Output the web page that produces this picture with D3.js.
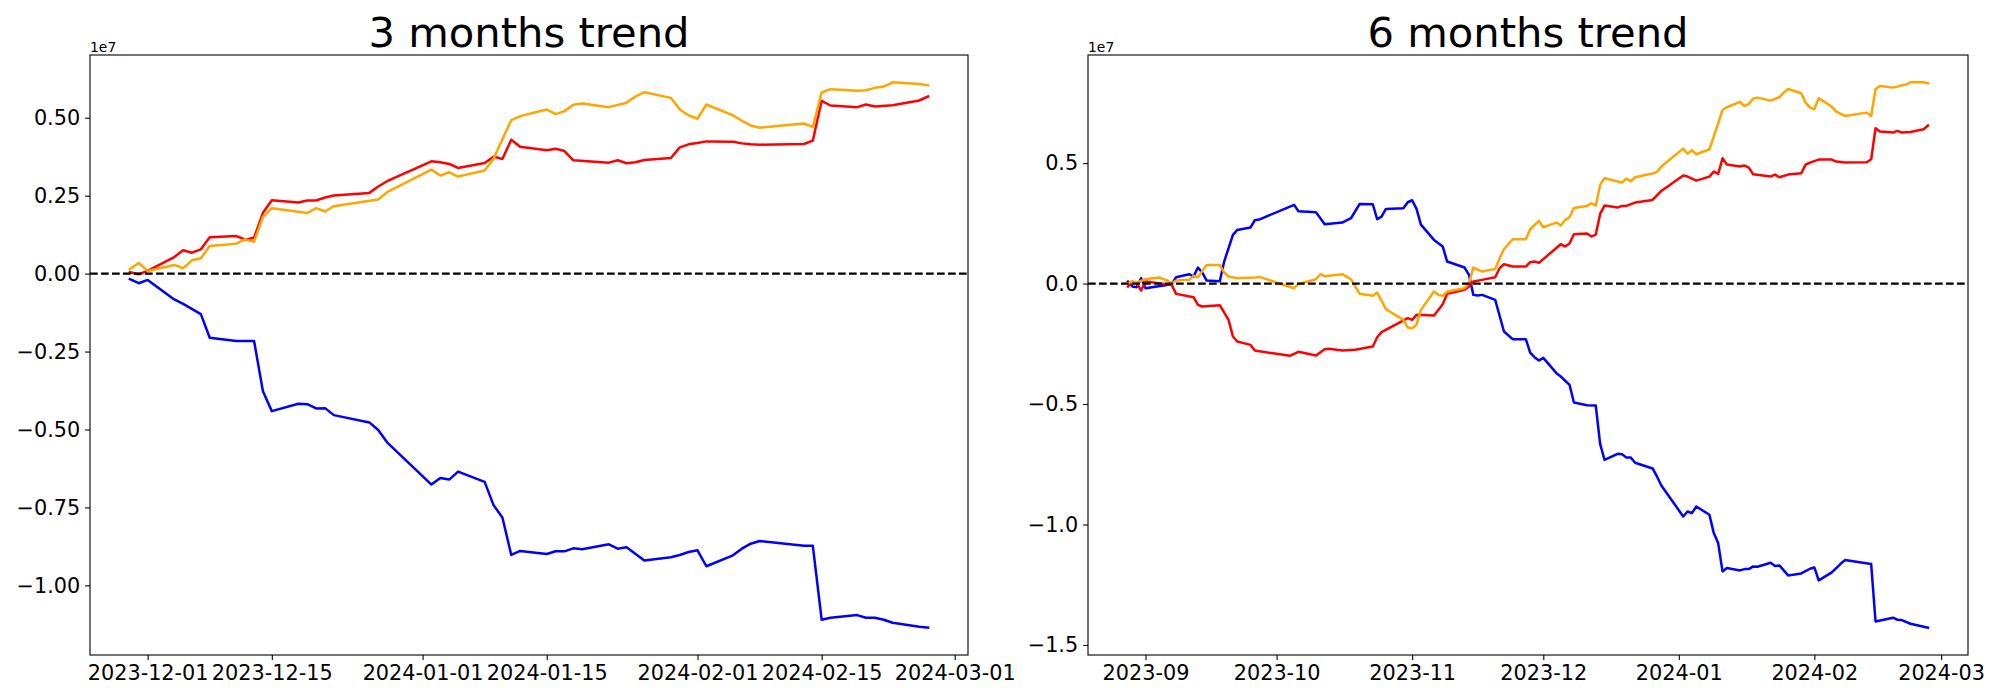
<!DOCTYPE html>
<html><head><meta charset="utf-8">
<script src="https://cdn.jsdelivr.net/npm/d3@7"></script>
<style>body{margin:0;background:#fff}svg{display:block}text{font-family:"DejaVu Sans",sans-serif}</style>
</head><body>
<svg id="chart" width="2000" height="700"></svg>
<script>
// ---------- data (values in units of 1e7) ----------
const panelTitles = ["3 months trend", "6 months trend"];
const seriesColors = ["blue", "red", "orange"];
const valueUnitLabel = "1e7";

const m3XTicks = ["2023-12-01","2023-12-15","2024-01-01","2024-01-15","2024-02-01","2024-02-15","2024-03-01"];
const m3YTicks = [-1.0, -0.75, -0.5, -0.25, 0.0, 0.25, 0.5];
const m6XTicks = ["2023-09-01","2023-10-01","2023-11-01","2023-12-01","2024-01-01","2024-02-01","2024-03-01"];
const m6YTicks = [-1.5, -1.0, -0.5, 0.0, 0.5];

const m3Blue = [["2023-11-29",-0.0180],["2023-11-30",-0.0308],["2023-12-01",-0.0201],["2023-12-04",-0.0830],["2023-12-05",-0.0969],["2023-12-07",-0.1299],["2023-12-08",-0.2056],["2023-12-11",-0.2162],["2023-12-13",-0.2162],["2023-12-14",-0.3771],["2023-12-15",-0.4411],["2023-12-18",-0.4176],["2023-12-19",-0.4187],["2023-12-20",-0.4325],["2023-12-21",-0.4315],["2023-12-22",-0.4539],["2023-12-26",-0.4773],["2023-12-27",-0.5018],["2023-12-28",-0.5412],["2024-01-02",-0.6766],["2024-01-03",-0.6553],["2024-01-04",-0.6606],["2024-01-05",-0.6350],["2024-01-08",-0.6681],["2024-01-09",-0.7426],["2024-01-10",-0.7821],["2024-01-11",-0.9025],["2024-01-12",-0.8897],["2024-01-15",-0.8993],["2024-01-16",-0.8908],["2024-01-17",-0.8908],["2024-01-18",-0.8812],["2024-01-19",-0.8844],["2024-01-22",-0.8684],["2024-01-23",-0.8823],["2024-01-24",-0.8780],["2024-01-26",-0.9206],["2024-01-29",-0.9099],["2024-01-30",-0.9025],["2024-01-31",-0.8929],["2024-02-01",-0.8876],["2024-02-02",-0.9387],["2024-02-05",-0.9036],["2024-02-06",-0.8823],["2024-02-07",-0.8663],["2024-02-08",-0.8578],["2024-02-13",-0.8727],["2024-02-14",-0.8727],["2024-02-15",-1.1103],["2024-02-16",-1.1039],["2024-02-19",-1.0954],["2024-02-20",-1.1039],["2024-02-21",-1.1039],["2024-02-22",-1.1103],["2024-02-23",-1.1199],["2024-02-26",-1.1327],["2024-02-27",-1.1359]];

const m3Red = [["2023-11-29",0.0044],["2023-11-30",-0.0020],["2023-12-01",0.0086],["2023-12-04",0.0530],["2023-12-05",0.0747],["2023-12-06",0.0672],["2023-12-07",0.0779],["2023-12-08",0.1163],["2023-12-11",0.1205],["2023-12-12",0.1088],["2023-12-13",0.1152],["2023-12-14",0.1951],["2023-12-15",0.2356],["2023-12-18",0.2282],["2023-12-19",0.2346],["2023-12-20",0.2346],["2023-12-21",0.2441],["2023-12-22",0.2505],["2023-12-26",0.2590],["2023-12-27",0.2793],["2023-12-28",0.2964],["2024-01-02",0.3603],["2024-01-03",0.3571],["2024-01-04",0.3518],["2024-01-05",0.3390],["2024-01-08",0.3550],["2024-01-09",0.3752],["2024-01-10",0.3678],["2024-01-11",0.4296],["2024-01-12",0.4072],["2024-01-15",0.3955],["2024-01-16",0.4008],["2024-01-17",0.3933],["2024-01-18",0.3635],["2024-01-22",0.3560],["2024-01-23",0.3635],["2024-01-24",0.3539],["2024-01-25",0.3571],["2024-01-26",0.3646],["2024-01-29",0.3710],["2024-01-30",0.4051],["2024-01-31",0.4147],["2024-02-01",0.4189],["2024-02-02",0.4242],["2024-02-05",0.4232],["2024-02-06",0.4178],["2024-02-07",0.4147],["2024-02-08",0.4136],["2024-02-13",0.4157],["2024-02-14",0.4264],["2024-02-15",0.5543],["2024-02-16",0.5393],["2024-02-19",0.5340],["2024-02-20",0.5425],["2024-02-21",0.5361],["2024-02-23",0.5404],["2024-02-26",0.5553],["2024-02-27",0.5681]];

const m3Orange = [["2023-11-29",0.0150],["2023-11-30",0.0342],["2023-12-01",0.0086],["2023-12-04",0.0278],["2023-12-05",0.0172],["2023-12-06",0.0427],["2023-12-07",0.0491],["2023-12-08",0.0886],["2023-12-11",0.0960],["2023-12-12",0.1099],["2023-12-13",0.1024],["2023-12-14",0.1823],["2023-12-15",0.2100],["2023-12-19",0.1941],["2023-12-20",0.2100],["2023-12-21",0.1994],["2023-12-22",0.2164],["2023-12-27",0.2378],["2023-12-28",0.2612],["2024-01-02",0.3337],["2024-01-03",0.3145],["2024-01-04",0.3251],["2024-01-05",0.3113],["2024-01-08",0.3305],["2024-01-09",0.3688],["2024-01-11",0.4924],["2024-01-12",0.5052],["2024-01-15",0.5265],["2024-01-16",0.5116],["2024-01-17",0.5212],["2024-01-18",0.5415],["2024-01-19",0.5458],["2024-01-22",0.5340],["2024-01-24",0.5479],["2024-01-25",0.5681],["2024-01-26",0.5819],["2024-01-29",0.5638],["2024-01-30",0.5265],["2024-01-31",0.5074],["2024-02-01",0.4968],["2024-02-02",0.5425],["2024-02-05",0.5074],["2024-02-06",0.4903],["2024-02-07",0.4754],["2024-02-08",0.4679],["2024-02-13",0.4818],["2024-02-14",0.4700],["2024-02-15",0.5809],["2024-02-16",0.5916],["2024-02-19",0.5863],["2024-02-20",0.5884],["2024-02-21",0.5959],["2024-02-22",0.6001],["2024-02-23",0.6138],["2024-02-26",0.6086],["2024-02-27",0.6043]];

const m6Blue = [["2023-08-28",0.0084],["2023-08-29",-0.0123],["2023-08-30",-0.0151],["2023-08-31",0.0223],["2023-09-01",-0.0192],["2023-09-07",-0.0026],["2023-09-08",0.0264],["2023-09-11",0.0389],["2023-09-12",0.0292],["2023-09-13",0.0665],["2023-09-14",0.0458],["2023-09-15",0.0126],["2023-09-18",0.0098],["2023-09-19",0.0914],["2023-09-21",0.2021],["2023-09-22",0.2228],["2023-09-25",0.2325],["2023-09-26",0.2629],["2023-09-27",0.2657],["2023-10-05",0.3266],["2023-10-06",0.3002],["2023-10-10",0.2961],["2023-10-12",0.2463],["2023-10-16",0.2532],["2023-10-18",0.2712],["2023-10-20",0.3307],["2023-10-23",0.3293],["2023-10-24",0.2671],["2023-10-25",0.2781],["2023-10-26",0.3100],["2023-10-30",0.3127],["2023-10-31",0.3376],["2023-11-01",0.3459],["2023-11-02",0.3100],["2023-11-03",0.2448],["2023-11-06",0.1813],["2023-11-08",0.1537],["2023-11-09",0.0914],["2023-11-13",0.0665],["2023-11-14",0.0361],["2023-11-15",-0.0469],["2023-11-16",-0.0497],["2023-11-17",-0.0469],["2023-11-20",-0.0676],["2023-11-22",-0.1990],["2023-11-24",-0.2308],["2023-11-27",-0.2308],["2023-11-28",-0.2862],["2023-11-29",-0.3055],["2023-11-30",-0.3194],["2023-12-01",-0.3083],["2023-12-04",-0.3719],["2023-12-05",-0.3858],["2023-12-07",-0.4203],["2023-12-08",-0.4937],["2023-12-11",-0.5047],["2023-12-13",-0.5061],["2023-12-14",-0.6651],["2023-12-15",-0.7315],["2023-12-18",-0.7066],["2023-12-19",-0.7080],["2023-12-20",-0.7219],["2023-12-21",-0.7219],["2023-12-22",-0.7440],["2023-12-26",-0.7675],["2023-12-27",-0.8007],["2023-12-28",-0.8380],["2024-01-02",-0.9667],["2024-01-03",-0.9460],["2024-01-04",-0.9528],["2024-01-05",-0.9252],["2024-01-08",-0.9598],["2024-01-09",-1.0358],["2024-01-10",-1.0774],["2024-01-11",-1.1949],["2024-01-12",-1.1811],["2024-01-15",-1.1907],["2024-01-16",-1.1852],["2024-01-17",-1.1852],["2024-01-18",-1.1741],["2024-01-19",-1.1755],["2024-01-22",-1.1589],["2024-01-23",-1.1727],["2024-01-24",-1.1700],["2024-01-26",-1.2115],["2024-01-29",-1.2032],["2024-01-31",-1.1838],["2024-02-01",-1.1783],["2024-02-02",-1.2323],["2024-02-05",-1.1991],["2024-02-07",-1.1631],["2024-02-08",-1.1479],["2024-02-14",-1.1645],["2024-02-15",-1.4024],["2024-02-19",-1.3871],["2024-02-20",-1.3955],["2024-02-21",-1.3969],["2024-02-23",-1.4120],["2024-02-27",-1.4286]];

const m6Red = [["2023-08-28",-0.0123],["2023-08-29",0.0084],["2023-08-30",0.0015],["2023-08-31",-0.0289],["2023-09-01",0.0084],["2023-09-07",-0.0054],["2023-09-08",-0.0427],["2023-09-12",-0.0566],["2023-09-13",-0.0884],["2023-09-14",-0.0953],["2023-09-18",-0.0898],["2023-09-20",-0.1506],["2023-09-21",-0.2198],["2023-09-22",-0.2405],["2023-09-25",-0.2544],["2023-09-26",-0.2779],["2023-10-04",-0.3000],["2023-10-06",-0.2834],["2023-10-10",-0.2986],["2023-10-12",-0.2723],["2023-10-13",-0.2710],["2023-10-16",-0.2779],["2023-10-19",-0.2751],["2023-10-23",-0.2613],["2023-10-24",-0.2226],["2023-10-25",-0.2018],["2023-10-31",-0.1437],["2023-11-01",-0.1506],["2023-11-02",-0.1299],["2023-11-06",-0.1327],["2023-11-08",-0.0856],["2023-11-09",-0.0427],["2023-11-13",-0.0261],["2023-11-14",-0.0123],["2023-11-15",0.0084],["2023-11-17",0.0154],["2023-11-20",0.0264],["2023-11-21",0.0638],["2023-11-22",0.0804],["2023-11-24",0.0707],["2023-11-27",0.0707],["2023-11-28",0.0887],["2023-11-29",0.0914],["2023-11-30",0.0860],["2023-12-05",0.1634],["2023-12-06",0.1536],["2023-12-07",0.1661],["2023-12-08",0.2049],["2023-12-11",0.2076],["2023-12-12",0.1951],["2023-12-13",0.2034],["2023-12-14",0.2892],["2023-12-15",0.3238],["2023-12-18",0.3155],["2023-12-19",0.3224],["2023-12-20",0.3224],["2023-12-22",0.3362],["2023-12-26",0.3473],["2023-12-28",0.3846],["2024-01-02",0.4483],["2024-01-03",0.4441],["2024-01-05",0.4275],["2024-01-08",0.4441],["2024-01-09",0.4649],["2024-01-10",0.4552],["2024-01-11",0.5202],["2024-01-12",0.4939],["2024-01-15",0.4856],["2024-01-16",0.4898],["2024-01-17",0.4815],["2024-01-18",0.4538],["2024-01-22",0.4441],["2024-01-23",0.4524],["2024-01-24",0.4414],["2024-01-26",0.4524],["2024-01-29",0.4580],["2024-01-30",0.4939],["2024-01-31",0.5022],["2024-02-02",0.5146],["2024-02-05",0.5146],["2024-02-06",0.5063],["2024-02-08",0.5022],["2024-02-13",0.5036],["2024-02-14",0.5161],["2024-02-15",0.6447],["2024-02-16",0.6308],["2024-02-19",0.6267],["2024-02-20",0.6336],["2024-02-21",0.6267],["2024-02-23",0.6295],["2024-02-26",0.6404],["2024-02-27",0.6557]];

const m6Orange = [["2023-08-28",0.0015],["2023-08-29",0.0084],["2023-08-30",0.0043],["2023-08-31",0.0112],["2023-09-01",0.0181],["2023-09-04",0.0250],["2023-09-06",0.0126],["2023-09-07",0.0015],["2023-09-08",0.0126],["2023-09-11",0.0154],["2023-09-12",0.0320],["2023-09-13",0.0264],["2023-09-15",0.0776],["2023-09-18",0.0776],["2023-09-19",0.0458],["2023-09-20",0.0292],["2023-09-22",0.0223],["2023-09-26",0.0250],["2023-09-27",0.0278],["2023-10-05",-0.0192],["2023-10-06",-0.0012],["2023-10-10",0.0181],["2023-10-11",0.0389],["2023-10-12",0.0306],["2023-10-16",0.0389],["2023-10-18",0.0181],["2023-10-20",-0.0427],["2023-10-23",-0.0510],["2023-10-24",-0.0372],["2023-10-26",-0.1064],["2023-10-30",-0.1506],["2023-10-31",-0.1824],["2023-11-01",-0.1852],["2023-11-02",-0.1714],["2023-11-03",-0.1091],["2023-11-06",-0.0331],["2023-11-07",-0.0469],["2023-11-08",-0.0510],["2023-11-09",-0.0331],["2023-11-13",-0.0192],["2023-11-14",0.0015],["2023-11-15",0.0665],["2023-11-17",0.0499],["2023-11-20",0.0610],["2023-11-21",0.1053],["2023-11-22",0.1426],["2023-11-24",0.1841],["2023-11-27",0.1841],["2023-11-28",0.2256],["2023-11-30",0.2602],["2023-12-01",0.2339],["2023-12-04",0.2532],["2023-12-05",0.2408],["2023-12-06",0.2643],["2023-12-07",0.2754],["2023-12-08",0.3141],["2023-12-11",0.3224],["2023-12-12",0.3335],["2023-12-13",0.3238],["2023-12-14",0.4095],["2023-12-15",0.4372],["2023-12-18",0.4234],["2023-12-19",0.4192],["2023-12-20",0.4358],["2023-12-21",0.4248],["2023-12-22",0.4414],["2023-12-26",0.4566],["2023-12-27",0.4635],["2023-12-28",0.4856],["2024-01-02",0.5603],["2024-01-03",0.5395],["2024-01-04",0.5534],["2024-01-05",0.5368],["2024-01-08",0.5575],["2024-01-09",0.6101],["2024-01-11",0.7207],["2024-01-12",0.7318],["2024-01-15",0.7539],["2024-01-16",0.7373],["2024-01-17",0.7443],["2024-01-18",0.7678],["2024-01-19",0.7719],["2024-01-22",0.7595],["2024-01-24",0.7733],["2024-01-25",0.7927],["2024-01-26",0.8079],["2024-01-29",0.7899],["2024-01-30",0.7512],["2024-01-31",0.7318],["2024-02-01",0.7235],["2024-02-02",0.7692],["2024-02-05",0.7346],["2024-02-06",0.7138],["2024-02-08",0.6958],["2024-02-13",0.7096],["2024-02-14",0.6958],["2024-02-15",0.8065],["2024-02-16",0.8203],["2024-02-19",0.8134],["2024-02-20",0.8176],["2024-02-21",0.8231],["2024-02-22",0.8258],["2024-02-23",0.8356],["2024-02-26",0.8356],["2024-02-27",0.8314]];

// ---------- drawing ----------
const parse = d3.timeParse("%Y-%m-%d");
const svg = d3.select("#chart");
const FONT_TICK = 20.8, FONT_TITLE = 41.7, FONT_OFFSET = 13.9;
const LW = 2.5, TICK_LEN = 4.9, TICK_PAD = 4.9;

const panels = [
  {title: panelTitles[0], x0: 90, x1: 968, y0: 55, y1: 655,
   series: [m3Blue, m3Red, m3Orange], xTicks: m3XTicks, xFmt: "%Y-%m-%d", yTicks: m3YTicks, yFmt: ".2f"},
  {title: panelTitles[1], x0: 1088, x1: 1968, y0: 55, y1: 655,
   series: [m6Blue, m6Red, m6Orange], xTicks: m6XTicks, xFmt: "%Y-%m", yTicks: m6YTicks, yFmt: ".1f"}
];

panels.forEach(p => {
  const data = p.series.map(s => s.map(([d, v]) => ({date: parse(d), value: v})));
  const all = data.flat();
  const [tMin, tMax] = d3.extent(all, d => +d.date);
  const [vMin, vMax] = d3.extent(all, d => d.value);
  const tPad = (tMax - tMin) * 0.05, vPad = (vMax - vMin) * 0.05;
  const x = d3.scaleTime().domain([new Date(tMin - tPad), new Date(tMax + tPad)]).range([p.x0, p.x1]);
  const y = d3.scaleLinear().domain([vMin - vPad, vMax + vPad]).range([p.y1, p.y0]);

  const g = svg.append("g");
  const line = d3.line().x(d => x(d.date)).y(d => y(d.value));
  data.forEach((s, i) => {
    g.append("path").datum(s).attr("d", line)
      .attr("fill", "none").attr("stroke", seriesColors[i])
      .attr("stroke-width", LW).attr("stroke-linejoin", "round").attr("stroke-linecap", "square");
  });
  // zero reference line
  g.append("line").attr("x1", p.x0).attr("x2", p.x1).attr("y1", y(0)).attr("y2", y(0))
    .attr("stroke", "black").attr("stroke-width", 2.3).attr("stroke-dasharray", "7.7,3.3");

  // frame
  g.append("rect").attr("x", p.x0).attr("y", p.y0).attr("width", p.x1 - p.x0).attr("height", p.y1 - p.y0)
    .attr("fill", "none").attr("stroke", "black").attr("stroke-width", 1.1);

  // axes
  const xAxis = d3.axisBottom(x).tickValues(p.xTicks.map(parse))
    .tickFormat(d3.timeFormat(p.xFmt)).tickSize(TICK_LEN).tickPadding(TICK_PAD);
  const gx = g.append("g").attr("transform", `translate(0,${p.y1})`).call(xAxis);
  const yAxis = d3.axisLeft(y).tickValues(p.yTicks).tickFormat(d3.format(p.yFmt))
    .tickSize(TICK_LEN).tickPadding(TICK_PAD);
  const gy = g.append("g").attr("transform", `translate(${p.x0},0)`).call(yAxis);
  [gx, gy].forEach(a => {
    a.select(".domain").remove();
    a.selectAll(".tick line").attr("stroke", "black").attr("stroke-width", 1.1);
    a.selectAll(".tick text").attr("fill", "black")
      .style("font-family", '"DejaVu Sans", sans-serif').style("font-size", FONT_TICK + "px");
  });

  // offset text
  g.append("text").attr("x", p.x0).attr("y", p.y0 - 3.5).text(valueUnitLabel)
    .style("font-size", FONT_OFFSET + "px").attr("fill", "black");
  // title
  g.append("text").attr("x", (p.x0 + p.x1) / 2).attr("y", p.y0 - 8.3)
    .attr("text-anchor", "middle").text(p.title)
    .style("font-size", FONT_TITLE + "px").attr("fill", "black");
});
</script>
</body></html>
